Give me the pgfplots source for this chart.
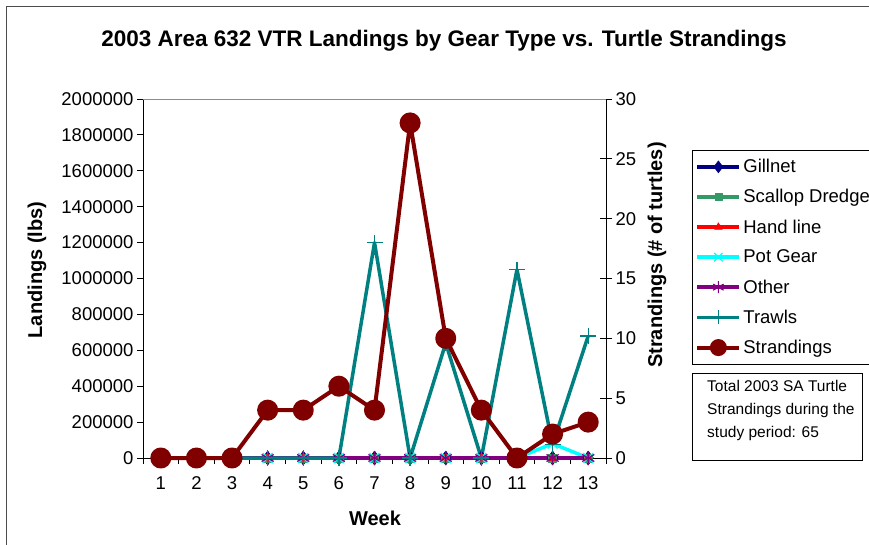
\documentclass[border=0pt]{standalone}
\usepackage{pgfplots}
\pgfplotsset{compat=1.18}
\usepackage{fontspec}
\setmainfont{Liberation Sans}
\definecolor{gill}{RGB}{0,0,128}
\definecolor{scal}{RGB}{51,153,102}
\definecolor{tealc}{RGB}{0,128,128}
\definecolor{purp}{RGB}{128,0,128}
\definecolor{dred}{RGB}{128,0,0}
\definecolor{cyanc}{RGB}{0,255,255}
\definecolor{redc}{RGB}{255,0,0}
\newcommand{\tickfont}{\fontsize{18.5}{20}\selectfont}
\newcommand{\labfont}{\fontsize{20}{22}\selectfont\bfseries}
\begin{document}
\begin{tikzpicture}[x=1pt,y=1pt]
\useasboundingbox (0,0) rectangle (869,-545);
\draw[line width=1pt, black!70] (6,-545) -- (6,-7) -- (869,-7);
\node[font=\fontsize{22.5}{26}\selectfont\bfseries] at (444,-41) {2003 Area 632 VTR Landings by Gear Type vs. Turtle Strandings};
\begin{axis}[
  at={(143pt,-458pt)}, anchor=south west, scale only axis,
  width=463pt, height=359pt,
  xmin=0.5, xmax=13.5, ymin=0, ymax=2000000,
  axis x line*=bottom, axis y line*=left,
  axis line style={line width=0.9pt, black},
  xtick={1,2,3,4,5,6,7,8,9,10,11,12,13},
  xticklabel style={yshift=-9pt},
  major x tick style={draw=none},
  minor xtick={0.5,1.5,2.5,3.5,4.5,5.5,6.5,7.5,8.5,9.5,10.5,11.5,12.5,13.5},
  minor x tick style={draw=black, line width=0.8pt},
  minor tick length=6pt,
  ytick={0,200000,...,2000000},
  scaled y ticks=false,
  yticklabel style={/pgf/number format/fixed, /pgf/number format/1000 sep={}},
  /pgf/number format/assume math mode=true,
  ticklabel style={font=\tickfont},
  tick align=outside, major tick length=6pt,
  major y tick style={line width=0.8pt, black},
  clip=false,
  every axis plot/.append style={line join=round},
]
\addplot[gill, line width=3.5pt, mark=diamond*, mark size=7pt, mark options={solid, line width=0.5pt}, forget plot] coordinates {(1,0)(2,0)(3,0)(4,0)(5,0)(6,0)(7,0)(8,0)(9,0)(10,0)(11,0)(12,0)(13,0)};
\addplot[scal, line width=3.5pt, mark=square*, mark size=4pt, mark options={solid, line width=0.5pt}, forget plot] coordinates {(1,0)(2,0)(3,0)(4,0)(5,0)(6,0)(7,0)(8,0)(9,0)(10,0)(11,0)(12,0)(13,0)};
\addplot[redc, line width=3.5pt, mark=triangle*, mark size=5pt, mark options={solid, line width=0.5pt}, forget plot] coordinates {(1,0)(2,0)(3,0)(4,0)(5,0)(6,0)(7,0)(8,0)(9,0)(10,0)(11,0)(12,0)(13,0)};
\addplot[cyanc, line width=3.5pt, mark=x, mark size=7pt, mark options={solid, line width=1.3pt}, forget plot] coordinates {(1,0)(2,0)(3,0)(4,0)(5,0)(6,0)(7,0)(8,0)(9,0)(10,0)(11,0)(12,80000)(13,0)};
\addplot[purp, line width=3.5pt, mark=asterisk, mark size=7pt, mark options={solid, line width=1.3pt}, forget plot] coordinates {(1,0)(2,0)(3,0)(4,0)(5,0)(6,0)(7,0)(8,0)(9,0)(10,0)(11,0)(12,0)(13,0)};
\addplot[tealc, line width=3.5pt, mark=+, mark size=8pt, mark options={solid, line width=1.3pt}, forget plot] coordinates {(1,0)(2,0)(3,0)(4,0)(5,0)(6,0)(7,1200000)(8,0)(9,640000)(10,0)(11,1050000)(12,75000)(13,680000)};
\end{axis}
\begin{axis}[
  at={(143pt,-458pt)}, anchor=south west, scale only axis,
  width=463pt, height=359pt,
  xmin=0.5, xmax=13.5, ymin=0, ymax=30,
  axis x line*=top, axis y line*=right,
  x axis line style={line width=0.9pt, black!45},
  y axis line style={line width=0.9pt, black},
  xtick=\empty,
  ytick={0,5,...,30},
  /pgf/number format/assume math mode=true,
  ticklabel style={font=\tickfont},
  tick align=center, major tick length=12pt,
  tick style={line width=0.8pt, black},
  clip=false,
  every axis plot/.append style={line join=round},
  legend cell align=left,
  legend style={at={(1.1857,0.858)}, anchor=north west, draw=black, line width=0.8pt,
    font=\tickfont, inner xsep=3pt, inner ysep=7pt, row sep=11.3pt,
    /tikz/every even column/.append style={column sep=0pt}},
  legend image code/.code={\draw[mark repeat=2,mark phase=2] plot coordinates {(0pt,0pt)(21pt,0pt)(42pt,0pt)};},
]
\addlegendimage{gill, line width=3.5pt, mark=diamond*, mark size=6pt, mark options={solid, line width=0.5pt}}
\addlegendimage{scal, line width=3.5pt, mark=square*, mark size=3.5pt, mark options={solid, line width=0.5pt}}
\addlegendimage{redc, line width=3.5pt, mark=triangle*, mark size=4.5pt, mark options={solid, line width=0.5pt}}
\addlegendimage{cyanc, line width=3.5pt, mark=x, mark size=6pt, mark options={solid, line width=1.2pt}}
\addlegendimage{purp, line width=3.5pt, mark=asterisk, mark size=6pt, mark options={solid, line width=1.2pt}}
\addlegendimage{tealc, line width=3.5pt, mark=+, mark size=7pt, mark options={solid, line width=1.2pt}}
\addlegendimage{dred, line width=4pt, mark=*, mark size=6.5pt, mark options={solid}}
\addplot[dred, line width=4pt, mark=*, mark size=8.5pt, mark options={solid}, forget plot] coordinates {(1,0)(2,0)(3,0)(4,4)(5,4)(6,6)(7,4)(8,28)(9,10)(10,4)(11,0)(12,2)(13,3)};
\legend{Gillnet, Scallop Dredge, Hand line, Pot Gear, Other, Trawls, Strandings}
\end{axis}
\node[rotate=90, font=\labfont] at (37,-270) {Landings (lbs)};
\node[font=\labfont] at (375,-518) {Week};
\node[rotate=90, font=\labfont] at (657,-255) {Strandings (\# of turtles)};
\draw[line width=0.8pt] (692,-373) rectangle (862,-460);
\node[anchor=north west, align=left, font=\fontsize{15.5}{23}\selectfont, inner sep=0pt] at (707,-380) {Total 2003 SA Turtle\\Strandings during the\\study period: 65};
\end{tikzpicture}
\end{document}
